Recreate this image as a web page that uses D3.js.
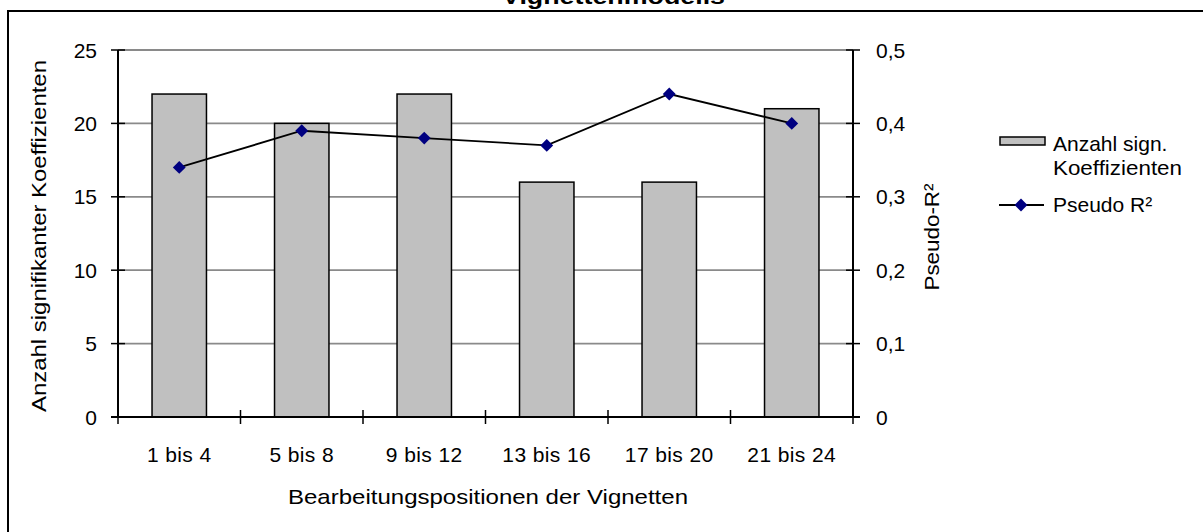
<!DOCTYPE html>
<html>
<head>
<meta charset="utf-8">
<script src="https://cdn.jsdelivr.net/npm/d3@7"></script>
<style>
  body { margin: 0; background: #fff; }
  text { font-family: "Liberation Sans", Arial, sans-serif; fill: #000; }
</style>
</head>
<body>
<div class="container"></div>
<script>
const categories = ["1 bis 4", "5 bis 8", "9 bis 12", "13 bis 16", "17 bis 20", "21 bis 24"];
const koeffizienten = [22, 20, 22, 16, 16, 21];
const pseudoR2 = [0.34, 0.39, 0.38, 0.37, 0.44, 0.40];
const leftTicks = [0, 5, 10, 15, 20, 25];
const rightTicks = [0, 0.1, 0.2, 0.3, 0.4, 0.5];

const W = 1203, H = 532;
const plot = { left: 118, right: 853, top: 50, bottom: 417 };

const svg = d3.select(".container").append("svg")
  .attr("width", W).attr("height", H);

// outer chart frame (cropped on right and bottom)
svg.append("path")
  .attr("d", `M8,${H + 2} L8,11 L${W + 2},11`)
  .attr("fill", "none").attr("stroke", "#000").attr("stroke-width", 2);

// title, mostly cut off at the top like in the source
svg.append("text")
  .attr("x", 502).attr("y", 3.5)
  .attr("textLength", 223).attr("lengthAdjust", "spacingAndGlyphs")
  .style("font-size", "22px").style("font-weight", "bold")
  .text("Vignettenmodells");

const x = d3.scaleBand().domain(categories).range([plot.left, plot.right]);
const yL = d3.scaleLinear().domain([0, 25]).range([plot.bottom, plot.top]);
const yR = d3.scaleLinear().domain([0, 0.5]).range([plot.bottom, plot.top]);

// gridlines
svg.append("g").selectAll("line").data(leftTicks.slice(1)).enter().append("line")
  .attr("x1", plot.left).attr("x2", plot.right)
  .attr("y1", d => yL(d)).attr("y2", d => yL(d))
  .attr("stroke", "#8a8a8a").attr("stroke-width", 1.8);

// bars
const barW = x.bandwidth() / 2.25;
svg.append("g").selectAll("rect").data(koeffizienten).enter().append("rect")
  .attr("x", (d, i) => x(categories[i]) + (x.bandwidth() - barW) / 2)
  .attr("y", d => yL(d))
  .attr("width", barW)
  .attr("height", d => yL(0) - yL(d))
  .attr("fill", "#c0c0c0").attr("stroke", "#000").attr("stroke-width", 1.5);

// axes
const tk = 7;
svg.append("line").attr("x1", plot.left).attr("x2", plot.left)
  .attr("y1", plot.top).attr("y2", plot.bottom)
  .attr("stroke", "#000").attr("stroke-width", 2);
svg.append("line").attr("x1", plot.right).attr("x2", plot.right)
  .attr("y1", plot.top).attr("y2", plot.bottom)
  .attr("stroke", "#000").attr("stroke-width", 2);
svg.append("line").attr("x1", plot.left - tk).attr("x2", plot.right + tk)
  .attr("y1", plot.bottom).attr("y2", plot.bottom)
  .attr("stroke", "#000").attr("stroke-width", 2);

svg.append("g").selectAll("line").data(leftTicks).enter().append("line")
  .attr("x1", plot.left - tk).attr("x2", plot.left + tk)
  .attr("y1", d => yL(d)).attr("y2", d => yL(d))
  .attr("stroke", "#000").attr("stroke-width", 1.5);
svg.append("g").selectAll("line").data(rightTicks).enter().append("line")
  .attr("x1", plot.right - tk).attr("x2", plot.right + tk)
  .attr("y1", d => yR(d)).attr("y2", d => yR(d))
  .attr("stroke", "#000").attr("stroke-width", 1.5);

const xEdges = categories.map(c => x(c)).concat([x(categories[categories.length - 1]) + x.bandwidth()]);
svg.append("g").selectAll("line").data(xEdges).enter().append("line")
  .attr("x1", d => d).attr("x2", d => d)
  .attr("y1", plot.bottom - tk).attr("y2", plot.bottom + tk)
  .attr("stroke", "#000").attr("stroke-width", 1.5);

// tick labels
svg.append("g").selectAll("text").data(leftTicks).enter().append("text")
  .attr("x", 97).attr("y", d => yL(d) + 7.5)
  .attr("text-anchor", "end").style("font-size", "21px")
  .text(d => d);
svg.append("g").selectAll("text").data(rightTicks).enter().append("text")
  .attr("x", 876).attr("y", d => yR(d) + 7.5)
  .style("font-size", "21px")
  .text(d => d === 0 ? "0" : d3.format(".1f")(d).replace(".", ","));
svg.append("g").selectAll("text").data(categories).enter().append("text")
  .attr("x", d => x(d) + x.bandwidth() / 2).attr("y", 462)
  .attr("text-anchor", "middle").style("font-size", "21px")
  .style("letter-spacing", "0.4px")
  .text(d => d);

// axis titles
svg.append("text")
  .attr("transform", "translate(46,236) rotate(-90)")
  .attr("text-anchor", "middle")
  .attr("textLength", 352).attr("lengthAdjust", "spacingAndGlyphs")
  .style("font-size", "21px")
  .text("Anzahl signifikanter Koeffizienten");
svg.append("text")
  .attr("transform", "translate(939,237) rotate(-90)")
  .attr("text-anchor", "middle")
  .attr("textLength", 107).attr("lengthAdjust", "spacingAndGlyphs")
  .style("font-size", "21px")
  .text("Pseudo-R²");
svg.append("text")
  .attr("x", 488).attr("y", 504)
  .attr("text-anchor", "middle")
  .attr("textLength", 400).attr("lengthAdjust", "spacingAndGlyphs")
  .style("font-size", "21px")
  .text("Bearbeitungspositionen der Vignetten");

// line series
const line = d3.line()
  .x((d, i) => x(categories[i]) + x.bandwidth() / 2)
  .y(d => yR(d));
svg.append("path").datum(pseudoR2)
  .attr("d", line).attr("fill", "none")
  .attr("stroke", "#000").attr("stroke-width", 1.8);

const diamond = d3.symbol().type(d3.symbolDiamond2).size(105);
svg.append("g").selectAll("path").data(pseudoR2).enter().append("path")
  .attr("d", diamond)
  .attr("transform", (d, i) => `translate(${x(categories[i]) + x.bandwidth() / 2},${yR(d)})`)
  .attr("fill", "#000080");

// legend
const lg = svg.append("g");
lg.append("rect").attr("x", 1000).attr("y", 137).attr("width", 45).attr("height", 8)
  .attr("fill", "#c0c0c0").attr("stroke", "#000").attr("stroke-width", 1.5);
lg.append("text").attr("x", 1053).attr("y", 151).style("font-size", "21px")
  .text("Anzahl sign.");
lg.append("text").attr("x", 1053).attr("y", 175).style("font-size", "21px")
  .attr("textLength", 129).attr("lengthAdjust", "spacingAndGlyphs")
  .text("Koeffizienten");
lg.append("line").attr("x1", 999).attr("x2", 1044).attr("y1", 205).attr("y2", 205)
  .attr("stroke", "#000").attr("stroke-width", 1.8);
lg.append("path").attr("d", diamond).attr("transform", "translate(1021,205)")
  .attr("fill", "#000080");
lg.append("text").attr("x", 1053).attr("y", 212).style("font-size", "21px")
  .text("Pseudo R²");
</script>
</body>
</html>
